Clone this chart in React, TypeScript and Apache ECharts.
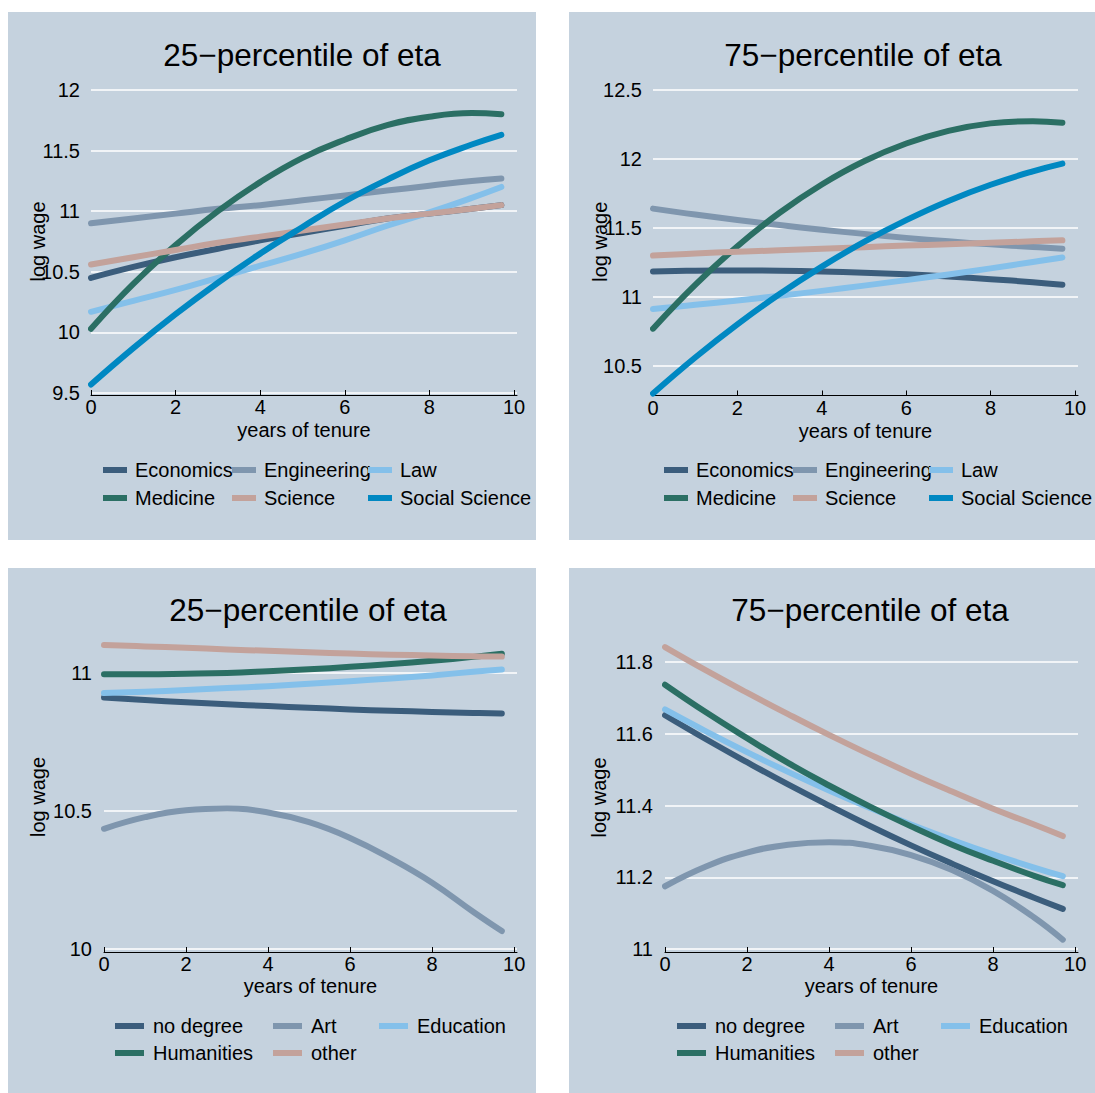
import React, { useEffect, useRef } from "react";
import * as echarts from "echarts";

// ---------------- data ----------------
const tenure = [0, 1, 2, 3, 4, 5, 6, 7, 8, 9, 9.7];
const xTickValues = [0, 2, 4, 6, 8, 10];

const fieldNames = ["Economics", "Engineering", "Law", "Medicine", "Science", "Social Science"];
const degreeNames = ["no degree", "Art", "Education", "Humanities", "other"];

// 25th percentile of eta, fields
const p25Economics = [10.45, 10.54, 10.62, 10.69, 10.76, 10.82, 10.88, 10.94, 10.98, 11.02, 11.05];
const p25Engineering = [10.9, 10.94, 10.98, 11.02, 11.05, 11.09, 11.13, 11.17, 11.21, 11.25, 11.27];
const p25Law = [10.17, 10.26, 10.35, 10.45, 10.55, 10.65, 10.76, 10.88, 10.99, 11.11, 11.2];
const p25Medicine = [10.03, 10.4, 10.72, 11.0, 11.24, 11.44, 11.59, 11.71, 11.78, 11.81, 11.8];
const p25Science = [10.56, 10.62, 10.68, 10.74, 10.79, 10.84, 10.89, 10.94, 10.98, 11.02, 11.05];
const p25SocialScience = [9.57, 9.87, 10.15, 10.41, 10.65, 10.87, 11.08, 11.26, 11.42, 11.55, 11.63];

// 75th percentile of eta, fields
const p75Economics = [11.185, 11.19, 11.192, 11.19, 11.185, 11.176, 11.164, 11.148, 11.129, 11.107, 11.089];
const p75Engineering = [11.64, 11.597, 11.558, 11.521, 11.487, 11.457, 11.428, 11.403, 11.381, 11.362, 11.35];
const p75Law = [10.913, 10.943, 10.974, 11.008, 11.044, 11.082, 11.122, 11.163, 11.207, 11.253, 11.286];
const p75Medicine = [10.77, 11.088, 11.368, 11.61, 11.815, 11.983, 12.112, 12.204, 12.258, 12.274, 12.263];
const p75Science = [11.3, 11.315, 11.327, 11.338, 11.35, 11.361, 11.372, 11.382, 11.392, 11.403, 11.41];
const p75SocialScience = [10.3, 10.561, 10.801, 11.021, 11.22, 11.399, 11.557, 11.696, 11.813, 11.91, 11.966];

// 25th percentile of eta, degrees
const p25NoDegree = [10.91, 10.901, 10.893, 10.886, 10.879, 10.873, 10.867, 10.862, 10.858, 10.854, 10.852];
const p25Art = [10.435, 10.477, 10.502, 10.508, 10.494, 10.459, 10.402, 10.327, 10.24, 10.135, 10.065];
const p25Education = [10.926, 10.931, 10.937, 10.944, 10.951, 10.96, 10.969, 10.979, 10.99, 11.003, 11.011];
const p25Humanities = [10.994, 10.994, 10.996, 10.999, 11.005, 11.012, 11.021, 11.031, 11.043, 11.057, 11.068];
const p25Other = [11.1, 11.095, 11.09, 11.084, 11.079, 11.074, 11.069, 11.065, 11.062, 11.059, 11.058];

// 75th percentile of eta, degrees
const p75NoDegree = [11.652, 11.585, 11.521, 11.459, 11.4, 11.343, 11.289, 11.238, 11.189, 11.143, 11.112];
const p75Art = [11.175, 11.23, 11.269, 11.291, 11.298, 11.288, 11.262, 11.22, 11.162, 11.088, 11.026];
const p75Education = [11.668, 11.607, 11.549, 11.494, 11.442, 11.393, 11.347, 11.304, 11.264, 11.227, 11.203];
const p75Humanities = [11.737, 11.66, 11.588, 11.519, 11.456, 11.397, 11.342, 11.291, 11.246, 11.204, 11.178];
const p75Other = [11.842, 11.777, 11.715, 11.655, 11.597, 11.542, 11.489, 11.439, 11.391, 11.347, 11.315];

const yTicks1 = [9.5, 10, 10.5, 11, 11.5, 12];
const yTicks2 = [10.5, 11, 11.5, 12, 12.5];
const yTicks3 = [10, 10.5, 11];
const yTicks4 = [11, 11.2, 11.4, 11.6, 11.8];

const titles = ["25\u2212percentile of eta", "75\u2212percentile of eta", "25\u2212percentile of eta", "75\u2212percentile of eta"];

// ---------------- styles ----------------
const FONT = "'Liberation Sans', Arial, Helvetica, sans-serif";
const BG = "#c5d2de";
const fieldColors = ["#3b5d7c", "#7f96ae", "#84c0ea", "#2b6f64", "#c3a29b", "#0088c2"];
const degreeColors = ["#3b5d7c", "#7f96ae", "#84c0ea", "#2b6f64", "#c3a29b"];

const panels = [
  { grid: { left: 91, top: 90, width: 426, height: 303 }, y: { min: 9.5, max: 12, ticks: yTicks1 }, xOffset: 2, xNameGap: 25, yNameGap: 43, yMargin: 11 },
  { grid: { left: 653, top: 90, width: 425, height: 303.5 }, y: { min: 10.3, max: 12.5, ticks: yTicks2 }, xOffset: 2, xNameGap: 25, yNameGap: 43, yMargin: 11 },
  { grid: { left: 104, top: 645, width: 413, height: 304 }, y: { min: 10, max: 11.1, ticks: yTicks3 }, xOffset: 3, xNameGap: 24, yNameGap: 56, yMargin: 12 },
  { grid: { left: 665, top: 646, width: 413, height: 303 }, y: { min: 11, max: 11.845, ticks: yTicks4 }, xOffset: 3, xNameGap: 24, yNameGap: 56, yMargin: 12 },
];

function lineSeries(name: string, values: number[], color: string, idx: number) {
  return {
    type: "line",
    name,
    xAxisIndex: idx,
    yAxisIndex: idx,
    data: tenure.map((x, i) => [x, values[i]]),
    smooth: 0.45,
    showSymbol: false,
    symbol: "none",
    clip: false,
    color,
    lineStyle: { color, width: 6, cap: "round", join: "round" },
    silent: true,
  };
}

function legendCol(names: string[], left: number, top: number, w: number, gap: number, pad: number) {
  return {
    orient: "vertical",
    left,
    top,
    padding: 0,
    itemGap: gap,
    itemWidth: w,
    itemHeight: 6,
    icon: "rect",
    selectedMode: false,
    data: names,
    textStyle: { fontSize: 20, color: "#000", fontFamily: FONT, lineHeight: 20, padding: [0, 0, 0, pad] },
  };
}

export default function App() {
  const ref = useRef<HTMLDivElement>(null);
  useEffect(() => {
    if (!ref.current) return;
    const chart = echarts.init(ref.current, undefined, { renderer: "svg" });

    const series: any[] = [];
    const fieldSets = [
      [p25Economics, p25Engineering, p25Law, p25Medicine, p25Science, p25SocialScience],
      [p75Economics, p75Engineering, p75Law, p75Medicine, p75Science, p75SocialScience],
    ];
    const degreeSets = [
      [p25NoDegree, p25Art, p25Education, p25Humanities, p25Other],
      [p75NoDegree, p75Art, p75Education, p75Humanities, p75Other],
    ];
    fieldSets.forEach((set, p) => set.forEach((vals, k) => series.push(lineSeries(fieldNames[k], vals, fieldColors[k], p))));
    degreeSets.forEach((set, p) => set.forEach((vals, k) => series.push(lineSeries(degreeNames[k], vals, degreeColors[k], p + 2))));

    const xAxis = panels.map((pn, i) => ({
      type: "value",
      gridIndex: i,
      min: 0,
      max: 10.07,
      offset: pn.xOffset,
      name: "years of tenure",
      nameLocation: "middle",
      nameGap: pn.xNameGap,
      nameMoveOverlap: false,
      nameTextStyle: { fontSize: 20, color: "#000", fontFamily: FONT },
      axisLine: { show: true, onZero: false, lineStyle: { color: "#000", width: 1 } },
      axisTick: { show: true, inside: true, length: 5, lineStyle: { color: "#000", width: 1 }, customValues: xTickValues },
      axisLabel: { show: true, margin: 2, fontSize: 20, color: "#000", fontFamily: FONT, customValues: xTickValues },
      splitLine: { show: false },
    }));

    const yAxis = panels.map((pn, i) => ({
      type: "value",
      gridIndex: i,
      min: pn.y.min,
      max: pn.y.max,
      name: "log wage",
      nameLocation: "middle",
      nameGap: pn.yNameGap,
      nameRotate: 90,
      nameMoveOverlap: false,
      nameTextStyle: { fontSize: 20, color: "#000", fontFamily: FONT },
      axisLine: { show: false },
      axisTick: { show: false, customValues: pn.y.ticks },
      axisLabel: { show: true, margin: pn.yMargin, fontSize: 20, color: "#000", fontFamily: FONT, customValues: pn.y.ticks },
      splitLine: { show: true, lineStyle: { color: "#ffffff", width: 1.5 } },
    }));

    const grid = panels.map((pn) => ({ ...pn.grid, containLabel: false }));

    const legend = [
      legendCol(["Economics", "Medicine"], 103, 460, 24, 8, 3),
      legendCol(["Engineering", "Science"], 232, 460, 24, 8, 3),
      legendCol(["Law", "Social Science"], 368, 460, 24, 8, 3),
      legendCol(["Economics", "Medicine"], 664, 460, 24, 8, 3),
      legendCol(["Engineering", "Science"], 793, 460, 24, 8, 3),
      legendCol(["Law", "Social Science"], 929, 460, 24, 8, 3),
      legendCol(["no degree", "Humanities"], 115, 1016, 29, 7, 4),
      legendCol(["Art", "other"], 273, 1016, 29, 7, 4),
      legendCol(["Education"], 379, 1016, 29, 7, 4),
      legendCol(["no degree", "Humanities"], 677, 1016, 29, 7, 4),
      legendCol(["Art", "other"], 835, 1016, 29, 7, 4),
      legendCol(["Education"], 941, 1016, 29, 7, 4),
    ];

    const panelRects = [
      [8, 12],
      [569, 12],
      [8, 568],
      [569, 568],
    ];
    const titlePos = [
      [302, 55],
      [863, 55],
      [308, 610],
      [870, 610],
    ];
    const graphic: any[] = [];
    panelRects.forEach(([x, y]) =>
      graphic.push({ type: "rect", z: -100, silent: true, shape: { x, y, width: 528, height: 528 }, style: { fill: BG } })
    );
    titlePos.forEach(([x, y], i) =>
      graphic.push({
        type: "text",
        z: 100,
        silent: true,
        x,
        y,
        style: {
          text: titles[i],
          fontSize: 31.5,
          fontFamily: FONT,
          fill: "#000",
          align: "center",
          verticalAlign: "middle",
          textAlign: "center",
          textVerticalAlign: "middle",
        },
      })
    );

    chart.setOption({
      animation: false,
      backgroundColor: "#ffffff",
      textStyle: { fontFamily: FONT },
      graphic,
      grid,
      xAxis,
      yAxis,
      legend,
      series,
    });
    return () => chart.dispose();
  }, []);
  return (
    <div
      ref={ref}
      style={{ position: "fixed", left: 0, top: 0, width: 1095, height: 1093, background: "#fff" }}
    />
  );
}
